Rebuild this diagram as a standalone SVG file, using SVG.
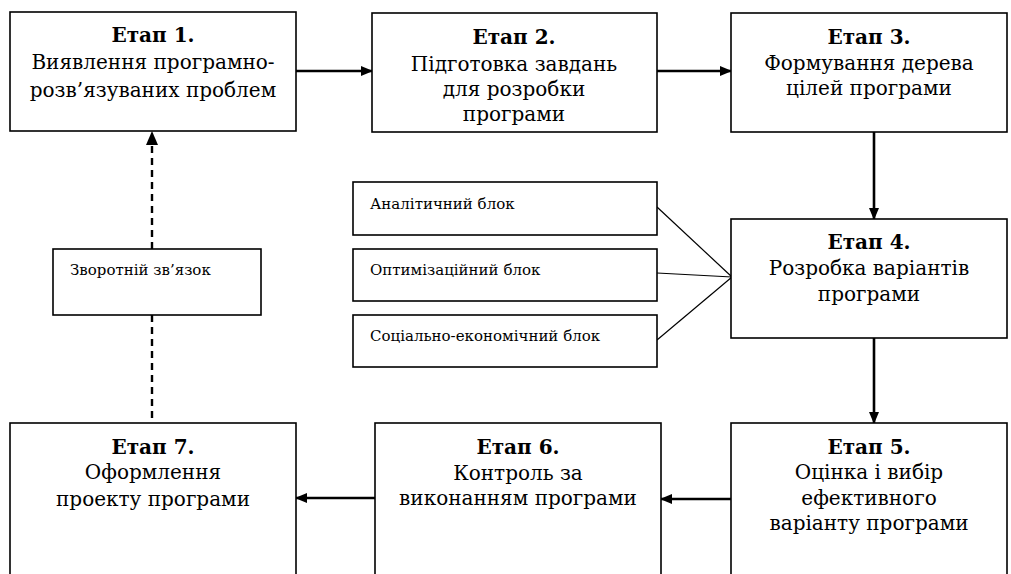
<svg xmlns="http://www.w3.org/2000/svg" width="1011" height="574" viewBox="0 0 1011 574">
<style>
.box{fill:#fff;stroke:#000;stroke-width:1.6}
.t{font-family:"DejaVu Serif","Liberation Serif",serif;font-size:20px;text-anchor:middle;fill:#000}
.b{font-weight:bold}
.s{font-family:"DejaVu Serif","Liberation Serif",serif;font-size:15px;fill:#000}
.arr{stroke:#000;stroke-width:2.6;fill:none;marker-end:url(#ah)}
.dash{stroke:#000;stroke-width:2.4;fill:none;stroke-dasharray:7,5}
.thin{stroke:#000;stroke-width:1.2;fill:none}
</style>
<defs>
<marker id="ah" markerWidth="12" markerHeight="10" refX="11" refY="5" orient="auto" markerUnits="userSpaceOnUse">
<path d="M0,0 L12,5 L0,10 Z" fill="#000"/>
</marker>
</defs>
<rect width="1011" height="574" fill="#fff"/>
<g id="connectors">
<line class="arr" x1="296" y1="71" x2="372" y2="71"/>
<line class="arr" x1="657" y1="71" x2="731" y2="71"/>
<line class="arr" x1="874" y1="132" x2="874" y2="219"/>
<line class="arr" x1="874" y1="338" x2="874" y2="423"/>
<line class="arr" x1="731" y1="499" x2="661" y2="499"/>
<line class="arr" x1="375" y1="498" x2="296" y2="498"/>
<line class="dash" x1="152" y1="249" x2="152" y2="144"/>
<path d="M146,145 L152,131 L158,145 Z" fill="#000"/>
<line class="dash" x1="152" y1="315" x2="152" y2="423"/>
<line class="thin" x1="657" y1="207" x2="732" y2="277"/>
<line class="thin" x1="657" y1="273" x2="732" y2="277"/>
<line class="thin" x1="657" y1="340" x2="732" y2="277"/>
</g>
<g id="stage1">
<rect class="box" x="10" y="12" width="286" height="119"/>
<text class="t b" x="153" y="42">Етап 1.</text>
<text class="t" x="153" y="69">Виявлення програмно-</text>
<text class="t" x="153" y="97">розв’язуваних проблем</text>
</g>
<g id="stage2">
<rect class="box" x="372" y="13" width="285" height="119"/>
<text class="t b" x="514" y="44">Етап 2.</text>
<text class="t" x="514" y="71">Підготовка завдань</text>
<text class="t" x="514" y="96">для розробки</text>
<text class="t" x="514" y="121">програми</text>
</g>
<g id="stage3">
<rect class="box" x="731" y="13" width="276" height="119"/>
<text class="t b" x="869" y="44">Етап 3.</text>
<text class="t" x="869" y="70">Формування дерева</text>
<text class="t" x="869" y="95">цілей програми</text>
</g>
<g id="stage4">
<rect class="box" x="731" y="219" width="276" height="119"/>
<text class="t b" x="869" y="249">Етап 4.</text>
<text class="t" x="869" y="275">Розробка варіантів</text>
<text class="t" x="869" y="301">програми</text>
</g>
<g id="block-analytic">
<rect class="box" x="353" y="182" width="304" height="53"/>
<text class="s" x="370" y="209">Аналітичний блок</text>
</g>
<g id="block-optim">
<rect class="box" x="353" y="249" width="304" height="52"/>
<text class="s" x="370" y="275">Оптимізаційний блок</text>
</g>
<g id="block-social">
<rect class="box" x="353" y="315" width="304" height="52"/>
<text class="s" x="370" y="341">Соціально-економічний блок</text>
</g>
<g id="feedback">
<rect class="box" x="53" y="249" width="208" height="66"/>
<text class="s" x="70" y="275">Зворотній зв’язок</text>
</g>
<g id="stage5">
<rect class="box" x="731" y="423" width="276" height="200"/>
<text class="t b" x="869" y="454">Етап 5.</text>
<text class="t" x="869" y="479">Оцінка і вибір</text>
<text class="t" x="869" y="505">ефективного</text>
<text class="t" x="869" y="530">варіанту програми</text>
</g>
<g id="stage6">
<rect class="box" x="375" y="423" width="286" height="200"/>
<text class="t b" x="518" y="454">Етап 6.</text>
<text class="t" x="518" y="480">Контроль за</text>
<text class="t" x="518" y="505">виконанням програми</text>
</g>
<g id="stage7">
<rect class="box" x="10" y="423" width="286" height="200"/>
<text class="t b" x="153" y="454">Етап 7.</text>
<text class="t" x="153" y="479">Оформлення</text>
<text class="t" x="153" y="506">проекту програми</text>
</g>
</svg>
